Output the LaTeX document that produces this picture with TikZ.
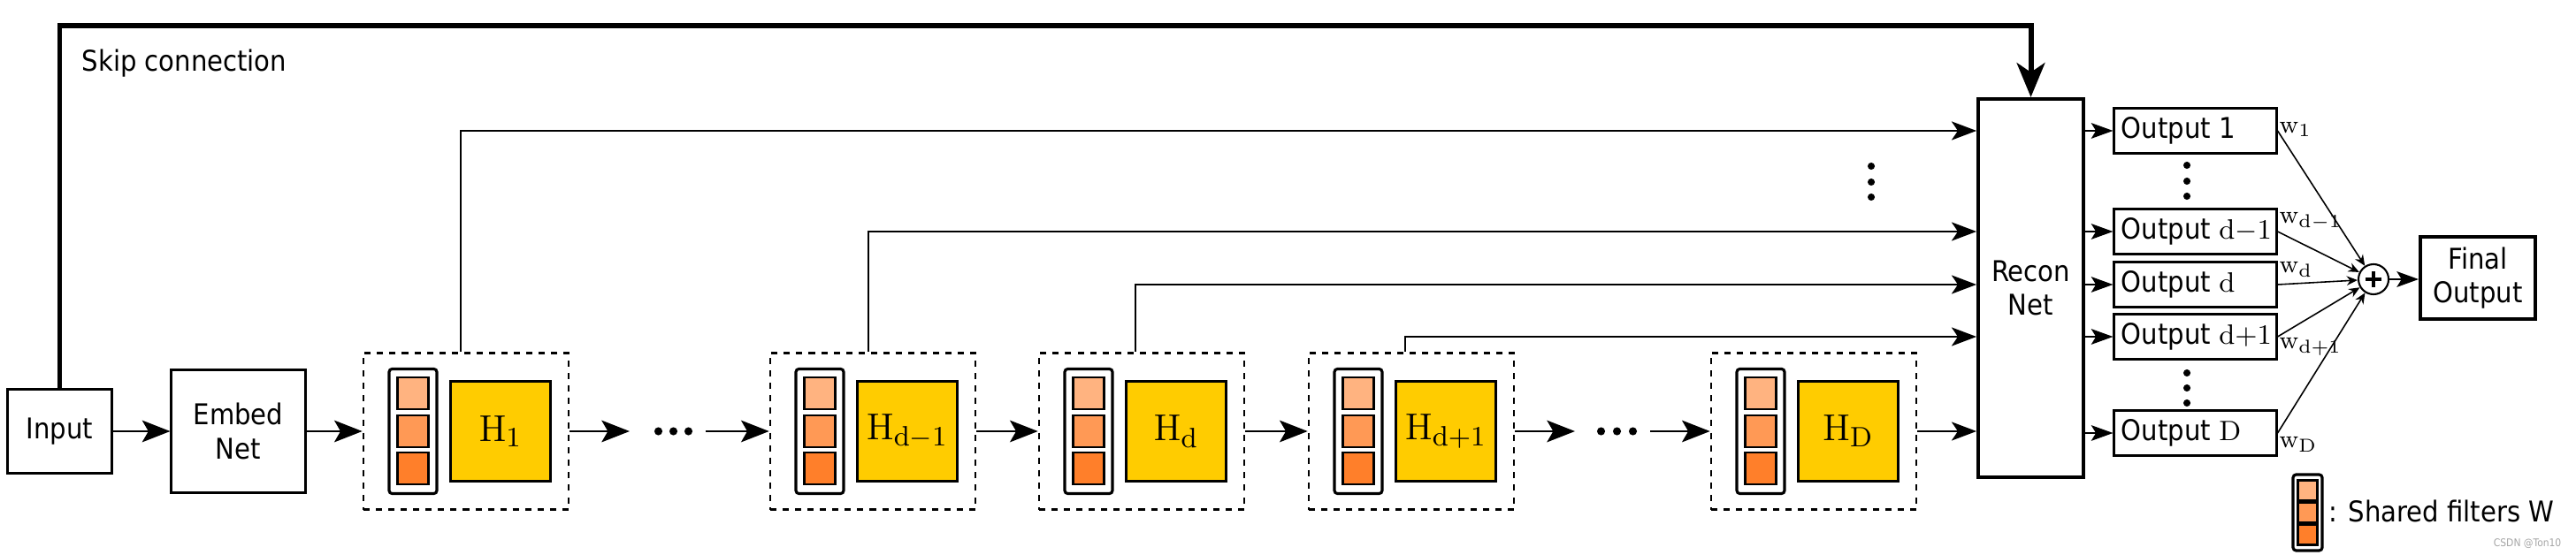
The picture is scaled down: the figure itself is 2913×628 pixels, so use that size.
\documentclass[tikz,border=0pt]{standalone}
\usepackage[no-math]{fontspec}
\setmainfont{DejaVu Sans Condensed}
\usetikzlibrary{arrows.meta}
\definecolor{fA}{HTML}{FFB380}
\definecolor{fB}{HTML}{FF9955}
\definecolor{fC}{HTML}{FF7F2A}
\definecolor{hY}{HTML}{FFCC00}
\newcommand{\lbl}{\fontsize{9.2}{11}\selectfont}
\newcommand{\obtext}[1]{\makebox[1.67cm][l]{#1}}
\begin{document}
\begin{tikzpicture}[x=0.01cm, y=-0.01cm,
  box/.style={draw, line width=0.85pt, align=center, font=\lbl, inner sep=0pt},
  blk/.style={draw, line width=0.7pt, dash pattern=on 2pt off 2pt, minimum width=2.32cm, minimum height=1.77cm, inner sep=0pt},
  fcol/.style={draw, line width=0.9pt, rounded corners=1pt, fill=white, minimum width=0.54cm, minimum height=1.41cm, inner sep=0pt},
  sq/.style={draw, line width=0.6pt, minimum width=0.35cm, minimum height=0.36cm, inner sep=0pt},
  hbox/.style={draw, line width=0.9pt, fill=hY, minimum width=1.13cm, minimum height=1.13cm, inner sep=0pt, font=\fontsize{13}{15}\selectfont},
  arr/.style={line width=0.75pt, -{Stealth[length=9pt,width=7pt,inset=2pt]}},
  rarr/.style={line width=0.6pt, -{Stealth[length=8pt,width=6pt,inset=2pt]}},
  oarr/.style={line width=0.7pt, -{Stealth[length=7pt,width=5pt,inset=1.5pt]}},
  warr/.style={line width=0.45pt, -{Stealth[length=3.5pt,width=3pt]}},
  skiparr/.style={line width=1.7pt, -{Stealth[length=11pt,width=9pt,inset=3pt]}},
  obox/.style={draw, line width=0.85pt, font=\lbl, inner xsep=0.08cm, inner ysep=0pt, minimum height=0.5cm},
  wl/.style={font=\fontsize{8.5}{9}\selectfont, anchor=west, inner sep=0pt},
  txt/.style={font=\lbl, anchor=west, inner sep=0pt}
]
\useasboundingbox (0,0) rectangle (2913,628);

% input and embed
\node[box, minimum width=1.17cm, minimum height=0.94cm] (inp) at (67.5,488) {Input};
\node[box, minimum width=1.51cm, minimum height=1.38cm] (emb) at (269.5,488) {Embed\\Net};
\draw[arr] (inp) -- (emb);

% blocks
\foreach \i/\lx/\hl in {1/411/{\mathrm{H}_1}, 2/871/{\mathrm{H}_{\mathrm{d}-1}}, 3/1175/{\mathrm{H}_{\mathrm{d}}}, 4/1480/{\mathrm{H}_{\mathrm{d}+1}}, 5/1935/{\mathrm{H}_{\mathrm{D}}}} {
  \node[blk] (b\i) at (\lx+116,488) {};
  \node[fcol] (f\i) at (\lx+56,488) {};
  \node[sq, fill=fA] (f\i a) at (\lx+56,445) {};
  \node[sq, fill=fB] (f\i b) at (\lx+56,488) {};
  \node[sq, fill=fC] (f\i c) at (\lx+56,530) {};
  \node[hbox] (h\i) at (\lx+155,488) {$\hl$};
}

% main row arrows and dots
\coordinate (d1l) at (712,488); \coordinate (d1r) at (798,488);
\coordinate (d2l) at (1781,488); \coordinate (d2r) at (1866,488);
\draw[arr] (emb) -- (b1);
\draw[arr] (b1) -- (d1l);
\foreach \dx in {744.5,761.5,778.5} \fill (\dx,488) circle[radius=1.3pt];
\draw[arr] (d1r) -- (b2);
\draw[arr] (b2) -- (b3);
\draw[arr] (b3) -- (b4);
\draw[arr] (b4) -- (d2l);
\foreach \dx in {1810.5,1828.5,1846.5} \fill (\dx,488) circle[radius=1.3pt];
\draw[arr] (d2r) -- (b5);

% recon net
\node[box, line width=1.1pt, minimum width=1.19cm, minimum height=4.28cm] (rec) at (2296.5,326) {Recon\\Net};

% outputs
\node[obox] (o1) at (2482.5,148) {\obtext{Output 1}};
\node[obox] (o2) at (2482.5,262) {\obtext{Output $\mathrm{d}{-}1$}};
\node[obox] (o3) at (2482.5,322) {\obtext{Output $\mathrm{d}$}};
\node[obox] (o4) at (2482.5,381) {\obtext{Output $\mathrm{d}{+}1$}};
\node[obox] (o5) at (2482.5,490) {\obtext{Output $\mathrm{D}$}};

% block to recon
\draw[rarr] ([xshift=-0.06cm]b1.north) |- (o1 -| rec.west);
\draw[rarr] ([xshift=-0.05cm]b2.north) |- (o2 -| rec.west);
\draw[rarr] ([xshift=-0.07cm]b3.north) |- (o3 -| rec.west);
\draw[rarr] ([xshift=-0.07cm]b4.north) |- (o4 -| rec.west);
\draw[rarr] (b5.east) -- (b5.east -| rec.west);
\foreach \dy in {188,206,223} \fill (2116,\dy) circle[radius=1.15pt];

% recon to outputs
\foreach \k in {1,...,5} \draw[oarr] (o\k -| rec.east) -- (o\k);
\foreach \dy in {187,205,222,422,439,456} \fill (2473,\dy) circle[radius=1.15pt];

% sum
\node[draw, circle, line width=0.6pt, minimum size=0.34cm, inner sep=0pt] (sum) at (2684,316) {};
\draw[line width=0.9pt] ([yshift=0.09cm]sum.center) -- ([yshift=-0.09cm]sum.center);
\draw[line width=0.9pt] ([xshift=0.09cm]sum.center) -- ([xshift=-0.09cm]sum.center);
\foreach \k in {1,...,5} \draw[warr] (o\k.east) -- (sum);

% weights
\node[wl] (w1) at (2577,146) {$\mathrm{w}_1$};
\node[wl] (w2) at (2577,250) {$\mathrm{w}_{\mathrm{d}-1}$};
\node[wl] (w3) at (2577,305) {$\mathrm{w}_{\mathrm{d}}$};
\node[wl] (w4) at (2577,392) {$\mathrm{w}_{\mathrm{d}+1}$};
\node[wl] (w5) at (2577,503) {$\mathrm{w}_{\mathrm{D}}$};

% final
\node[box, line width=1.1pt, minimum width=1.30cm, minimum height=0.93cm] (fin) at (2802,314.5) {Final\\Output};
\draw[oarr] (sum.east) -- (sum.east -| fin.west);

% skip connection
\coordinate (sk) at (2296.5,29);
\draw[skiparr] (inp.north) |- (sk) -- (rec.north);
\node[txt] (skiplbl) at (92,72) {Skip connection};

% legend
\node[fcol, minimum width=0.33cm, minimum height=0.86cm] (lg) at (2609.5,580) {};
\node[sq, fill=fA, minimum width=0.22cm, minimum height=0.23cm] (lga) at (2609.5,555) {};
\node[sq, fill=fB, minimum width=0.22cm, minimum height=0.23cm] (lgb) at (2609.5,580) {};
\node[sq, fill=fC, minimum width=0.22cm, minimum height=0.23cm] (lgc) at (2609.5,605) {};
\node[txt] (lgt) at (2633,578) {: Shared filters W};
\node[font=\fontsize{3.4}{4}\selectfont, text=gray!70, anchor=east, inner sep=0pt] (wm) at (2897,615) {CSDN @Ton10};
\end{tikzpicture}
\end{document}
